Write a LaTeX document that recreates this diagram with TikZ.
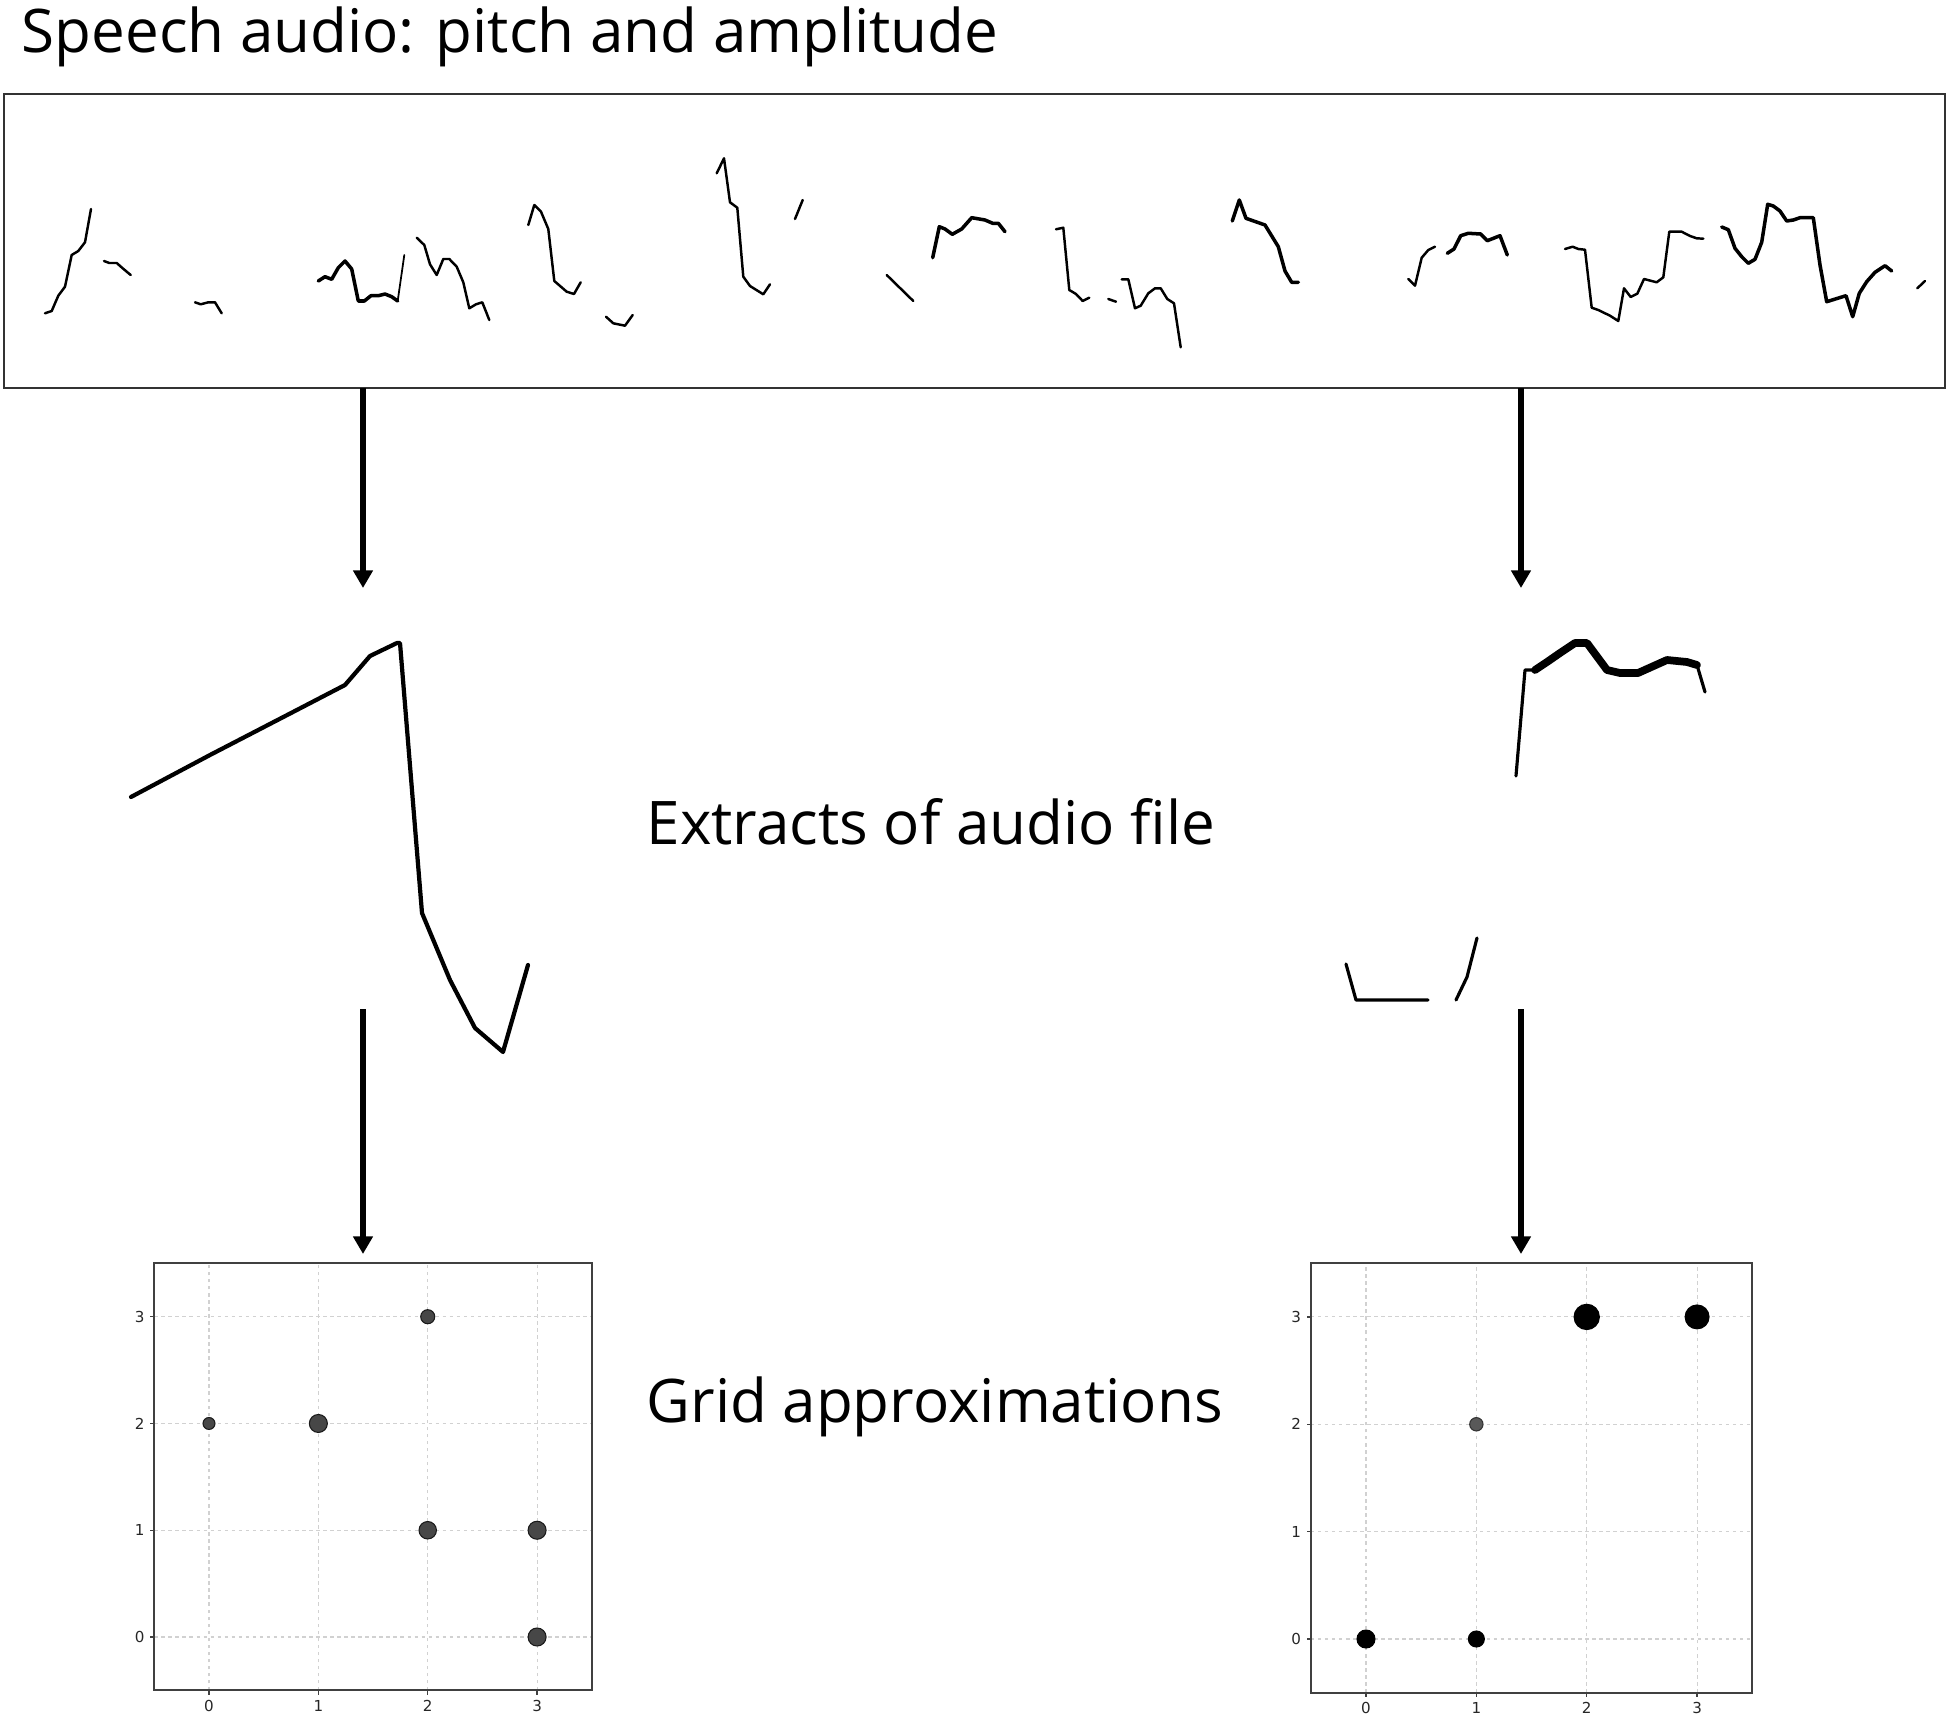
\documentclass[tikz,border=0pt]{standalone}
\usepackage{fontspec}
\setmainfont{Open Sans}
\newfontfamily\tickfont{DejaVu Sans}
\usetikzlibrary{arrows.meta}
\tikzset{
  wave/.style={line width=0.7pt, line join=round, line cap=round, black},
  wavethick/.style={wave, line width=1.0pt},
  extract/.style={line width=1.2pt, line join=round, line cap=round, black},
  flowarrow/.style={line width=1.7pt, -{Triangle[width=5.4pt,length=5pt]}},
  biglabel/.style={font=\fontsize{17.1}{20}\selectfont, anchor=base west, inner sep=0pt},
  frame/.style={draw=black!75, line width=0.6pt},
  gridline/.style={draw=black!18, line width=0.3pt, dash pattern=on 1pt off 1pt},
  tickmark/.style={draw=black!75, line width=0.35pt},
  ticklabel/.style={font=\tickfont\fontsize{4.3}{5}\selectfont, text=black!85, inner sep=0.4pt},
  dotgray/.style={fill=black!72, draw=black!90, line width=0.3pt},
  dotblack/.style={fill=black, draw=black, line width=0.3pt},
  dotmid/.style={fill=black!65, draw=black!80, line width=0.3pt},
}
\newcommand\mygridbody{%
  \foreach \k in {0,1,2,3} {
    \draw[gridline] (\k,-0.5) -- (\k,3.5);
    \draw[gridline] (-0.5,\k) -- (3.5,\k);
    \draw[tickmark] (\k,-0.5) -- ++(0pt,-1.2pt);
    \node[ticklabel, anchor=north] at ([yshift=-2.2pt]\k,-0.5) {\k};
    \draw[tickmark] (-0.5,\k) -- ++(-1.2pt,0pt);
    \node[ticklabel, anchor=east] at ([xshift=-2.2pt]-0.5,\k) {\k};
  }
  \draw[frame] (-0.5,-0.5) rectangle (3.5,3.5);
}
\begin{document}
\begin{tikzpicture}[x=0.01cm, y=-0.01cm]
\useasboundingbox (0,0) rectangle (1950,1718);

% title and labels
\node[biglabel] (title) at (21,52) {Speech audio: pitch and amplitude};
\node[biglabel] (extracts) at (646,844) {Extracts of audio file};
\node[biglabel] (gridlab) at (646,1422) {Grid approximations};

% top box
\node[draw=black!80, line width=0.6pt, minimum width=19.39cm, minimum height=2.935cm, inner sep=0pt] (speech) at (974.5,241.25) {};

% waveform segments
\draw[wave] (45,313.3) -- (51.7,311) -- (58.3,295.7) -- (65,286.7) -- (71.7,255) -- (78.3,251) -- (85,242.3) -- (91,209);
\draw[wave] (104,261) -- (109.3,263) -- (116.7,263) -- (122.7,268.3) -- (130.7,275);
\draw[wave] (195,302.3) -- (200.7,304.3) -- (208.3,302.3) -- (215,302.3) -- (221.7,313.3);
\draw[wavethick] (318.3,281) -- (325,276.7) -- (331.7,279.3) -- (338.3,267.7) -- (345,261) -- (351.7,269) -- (358.3,301) -- (364.3,301) -- (371,295.7) -- (378.3,295.7) -- (385,294) -- (391.7,296.7) -- (397.7,301);
\draw[wave, line width=0.5pt] (397.7,301) -- (404.3,255);
\draw[wave] (416.7,237.7) -- (424.3,245) -- (430,264.3) -- (436.7,275) -- (443.3,259) -- (449.3,259) -- (456.7,266.7) -- (463.3,282.3) -- (469.3,308.3) -- (476,304.3) -- (482.3,302.3) -- (489.3,320);
\draw[wave] (528.3,225) -- (534.3,205) -- (541,211.7) -- (548.3,229) -- (554.3,281) -- (566.7,291.7) -- (574,294) -- (580.7,282.3);
\draw[wave] (606,316.7) -- (613.3,323.3) -- (625,325.7) -- (632.7,315);
\draw[wave] (716.7,173.3) -- (724,158.3) -- (730,202.3) -- (737.3,207.7) -- (743.3,276.7) -- (750,286) -- (763.3,294.3) -- (770,284.3);
\draw[wave] (795,219) -- (802.7,200);
\draw[wave] (886.7,275) -- (913.3,301);
\draw[wavethick] (932.7,257.7) -- (939.3,226.7) -- (945,229) -- (952.3,234.3) -- (961.7,229) -- (971.7,217.7) -- (985,220) -- (992.7,223.3) -- (998.3,223.3) -- (1005,231.7);
\draw[wave] (1056,229.3) -- (1063.3,227.7) -- (1069.3,290) -- (1076,294) -- (1082.7,301) -- (1089.3,297.7);
\draw[wave] (1108.3,299) -- (1116,301.7);
\draw[wave] (1121.7,279.3) -- (1128.3,279.3) -- (1135,308.3) -- (1140.7,305.7) -- (1148.3,293.3) -- (1155,288.3) -- (1160.7,288.3) -- (1167.3,299) -- (1174,303.3) -- (1180.7,347.3);
\draw[wavethick] (1232.3,221) -- (1239.3,200) -- (1246,218.3) -- (1265,225) -- (1278.3,246.7) -- (1285,271) -- (1291.7,282.3) -- (1298.3,282.3);
\draw[wave] (1408.3,279) -- (1415,285.7) -- (1421.7,257.7) -- (1428.3,250) -- (1435,246.7);
\draw[wavethick] (1447.3,253.3) -- (1454,249) -- (1460.7,235.7) -- (1468.3,233.3) -- (1480.7,234) -- (1487.3,240.7) -- (1500,235.7) -- (1507.3,255);
\draw[wave] (1565,249) -- (1572.7,246.7) -- (1578.3,249) -- (1585,249.7) -- (1591.7,307.7) -- (1598.3,310) -- (1610,315.7) -- (1618.3,321) -- (1624,288.3) -- (1630.7,297) -- (1637.3,293.7) -- (1644,279) -- (1656.7,282.3) -- (1663.3,277.3) -- (1669.3,231.7) -- (1681.7,231.7) -- (1690,236) -- (1696.7,238.3) -- (1703.3,238.7);
\draw[wavethick] (1721.7,227) -- (1728.3,229.7) -- (1735,248.3) -- (1741.7,256.7) -- (1748.3,263.3) -- (1755,259.3) -- (1761.7,242.3) -- (1767.7,204.3) -- (1773.3,206) -- (1780,211) -- (1786.7,221) -- (1793.3,220) -- (1800,217.7) -- (1813.3,217.7) -- (1820,265) -- (1826.7,301.7) -- (1846,295.7) -- (1852.7,316.7) -- (1859.3,293.3) -- (1866.7,281.7) -- (1875,272.3) -- (1885,265.7) -- (1891.7,271);
\draw[wave] (1917.3,288.3) -- (1925,281);

% extracts
\draw[extract] (131,797) -- (210,755) -- (293,712) -- (345,685) -- (370,656) -- (397,643) -- (400,643) -- (422,913) -- (450,980) -- (475,1028) -- (503,1052) -- (528,965);
\draw[wave, line width=0.9pt] (1516,776) -- (1525,670) -- (1535,670);
\draw[wave, line width=2.2pt] (1535,670) -- (1547,662) -- (1560,653) -- (1575,643) -- (1587,643) -- (1607,670) -- (1620,673) -- (1638,673) -- (1667,660) -- (1687,662) -- (1697,665);
\draw[wave, line width=0.9pt] (1697,665) -- (1705,692);
\draw[wave, line width=0.9pt] (1346,964) -- (1356,1000) -- (1428,1000);
\draw[wave, line width=0.9pt] (1456,1000) -- (1467,977) -- (1477,938);

% arrows
\coordinate (a1s) at (363,388);
\coordinate (a1e) at (363,588);
\coordinate (a2s) at (1521,388);
\coordinate (a2e) at (1521,588);
\coordinate (b1s) at (363,1009);
\coordinate (b1e) at (363,1254);
\coordinate (b2s) at (1521,1009);
\coordinate (b2e) at (1521,1254);
\draw[flowarrow] (a1s) -- (a1e);
\draw[flowarrow] (a2s) -- (a2e);
\draw[flowarrow] (b1s) -- (b1e);
\draw[flowarrow] (b2s) -- (b2e);

% left grid
\begin{scope}[shift={(209,1637)}, x=1.093cm, y=1.067cm]
  \mygridbody
  \fill[dotgray] (0,2) circle[radius=1.7pt];
  \fill[dotgray] (1,2) circle[radius=2.56pt];
  \fill[dotgray] (2,3) circle[radius=2.0pt];
  \fill[dotgray] (2,1) circle[radius=2.48pt];
  \fill[dotgray] (3,1) circle[radius=2.56pt];
  \fill[dotgray] (3,0) circle[radius=2.56pt];
\end{scope}

% right grid
\begin{scope}[shift={(1366,1639)}, x=1.103cm, y=1.073cm]
  \mygridbody
  \fill[dotblack] (2,3) circle[radius=3.6pt];
  \fill[dotblack] (3,3) circle[radius=3.4pt];
  \fill[dotmid] (1,2) circle[radius=1.9pt];
  \fill[dotblack] (0,0) circle[radius=2.56pt];
  \fill[dotblack] (1,0) circle[radius=2.28pt];
\end{scope}
\end{tikzpicture}
\end{document}
